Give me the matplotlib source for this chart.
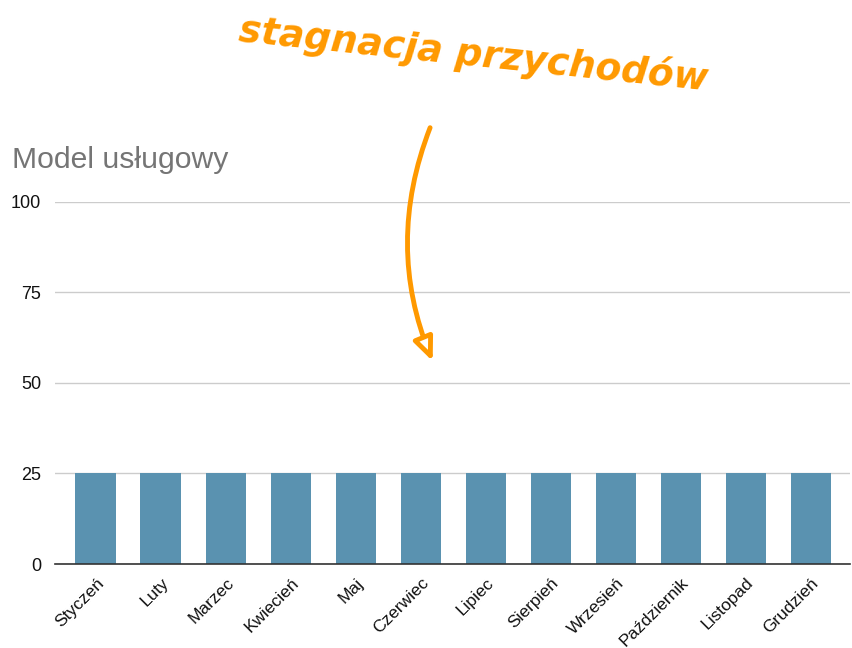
import matplotlib
matplotlib.use("Agg")
import matplotlib.pyplot as plt

months = ["Styczeń", "Luty", "Marzec", "Kwiecień", "Maj", "Czerwiec", "Lipiec",
          "Sierpień", "Wrzesień", "Październik", "Listopad", "Grudzień"]
values = [25, 25, 25, 25, 25, 25, 25, 25, 25, 25, 25, 25]
yticks = [0, 25, 50, 75, 100]
title = "Model usługowy"
note = "stagnacja przychodów"

plt.rcParams['font.family'] = ['Liberation Sans', 'DejaVu Sans']

fig = plt.figure(figsize=(8.53, 6.48), dpi=100)
ax = fig.add_axes([0.0645, 0.1296, 0.932, 0.5588])

x = list(range(len(months)))
ax.bar(x, values, width=0.63, color="#5a92b0", zorder=3)

ax.set_ylim(0, 100)
ax.set_xlim(-0.63, 11.6)
ax.set_yticks(yticks)
ax.set_yticklabels([str(v) for v in yticks], fontsize=13, color="#111111")
ax.set_xticks(x)
ax.set_xticklabels(months, rotation=45, ha="right", rotation_mode="anchor",
                   fontsize=12.5, color="#111111")
ax.tick_params(axis="both", length=0)
ax.tick_params(axis="y", pad=10)
ax.tick_params(axis="x", pad=8)
ax.grid(axis="y", color="#cccccc", linewidth=1, zorder=0)
for s in ["top", "right", "left"]:
    ax.spines[s].set_visible(False)
ax.spines["bottom"].set_color("#333333")
ax.spines["bottom"].set_linewidth(1.2)
ax.spines["bottom"].set_zorder(4)

fig.text(12 / 853, 1 - 160 / 648, title, fontsize=21.7, color="#757575",
         ha="left", va="center")

fig.text(0.555, 0.915, note, fontsize=27, color="#ff9900", fontweight="bold",
         fontstyle="italic", rotation=-6, ha="center", va="center",
         family=["DejaVu Sans"])

ax.annotate("", xy=(5.18, 56), xytext=(5.14, 120.5), xycoords="data",
            textcoords="data", annotation_clip=False,
            arrowprops=dict(arrowstyle="-|>,head_length=1.4,head_width=0.6",
                            connectionstyle="arc3,rad=0.2", color="#ff9900",
                            lw=3.5, fc="white", shrinkA=0, shrinkB=0))

fig.savefig("out.png", dpi=100)
